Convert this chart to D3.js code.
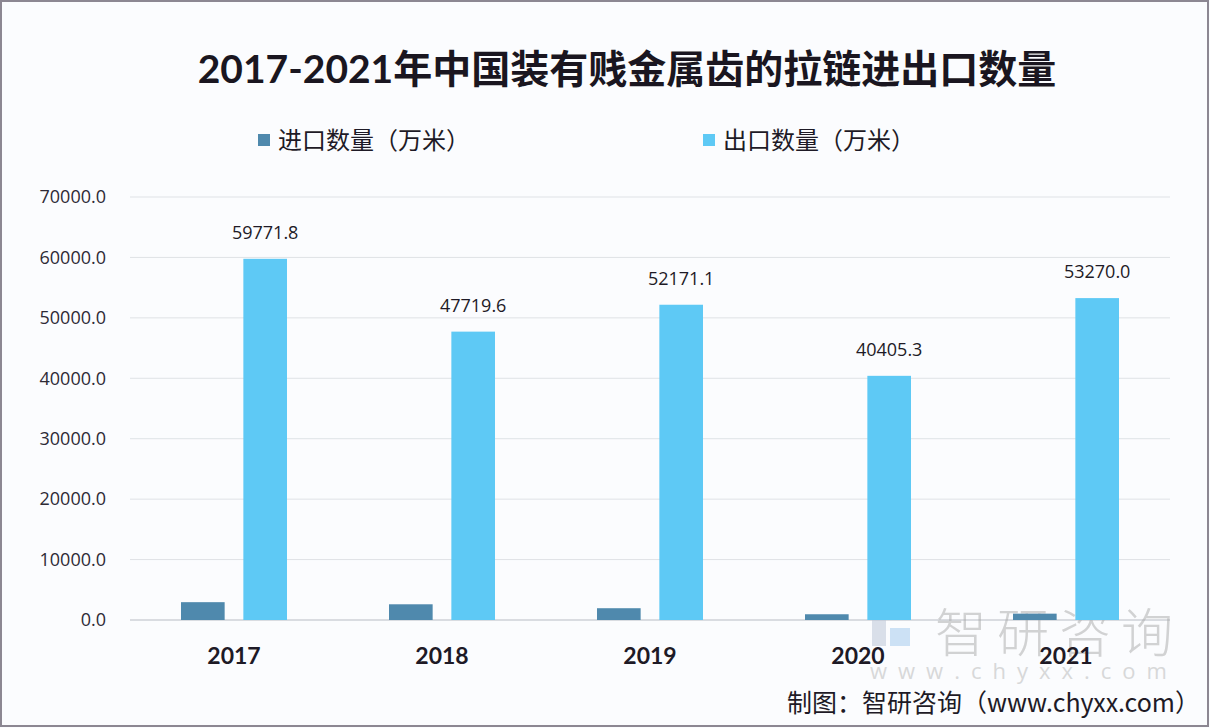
<!DOCTYPE html>
<html><head><meta charset="utf-8">
<script src="https://cdn.jsdelivr.net/npm/d3@7/dist/d3.min.js"></script>
<style>
html,body{margin:0;padding:0;background:#fff;}
svg{display:block;}
</style></head>
<body>
<svg id="chart" width="1210" height="728"></svg>
<script>
const categories = ["2017","2018","2019","2020","2021"];
const seriesNames = ["进口数量（万米）","出口数量（万米）"];
const importValues = [2950, 2600, 1950, 950, 1050];
const exportValues = [59771.8, 47719.6, 52171.1, 40405.3, 53270.0];
const yTicks = [0,10000,20000,30000,40000,50000,60000,70000];
const titleText = "2017-2021年中国装有贱金属齿的拉链进出口数量";
const sourceText = "制图：智研咨询（www.chyxx.com）";

const colors = ["#4f89ad", "#5ec9f5"];
const svg = d3.select("#chart");
const W = 1210, H = 728;

svg.append("rect").attr("x",0).attr("y",0).attr("width",W).attr("height",H).attr("fill","#fbfcfe");
svg.append("rect").attr("x",1).attr("y",1).attr("width",W-3).attr("height",H-3)
  .attr("fill","none").attr("stroke","#8c8792").attr("stroke-width",2);

const margin = {left:130, right:1170, top:197, bottom:620};
const x = d3.scaleBand().domain(categories).range([margin.left, margin.right]).paddingInner(0).paddingOuter(0);
const y = d3.scaleLinear().domain([0,70000]).range([margin.bottom, margin.top]);
const x1 = d3.scaleBand().domain([0,1]).range([0,106]).paddingInner(0.3);

// gridlines
svg.append("g").selectAll("line").data(yTicks).join("line")
  .attr("x1", margin.left).attr("x2", margin.right)
  .attr("y1", d=>y(d)).attr("y2", d=>y(d))
  .attr("stroke", d=> d===0 ? "#b8bcc4" : "#dfe2e6").attr("stroke-width",1);

// y axis labels
const yAxis = d3.axisLeft(y).tickValues(yTicks).tickFormat(d=>d3.format(".1f")(d)).tickSize(0).tickPadding(24);
const ya = svg.append("g").attr("transform",`translate(${margin.left},0)`).call(yAxis);
ya.select(".domain").remove();
ya.selectAll("text").attr("font-family","'Open Sans', 'Noto Sans', sans-serif").attr("font-size",18).attr("fill","#2e2a35");

// watermark (behind labels)
const wm = svg.append("g").attr("opacity",0.5);
wm.append("rect").attr("x",872).attr("y",608).attr("width",38).attr("height",10).attr("fill","#9fb3cf");
wm.append("rect").attr("x",872).attr("y",620).attr("width",14).attr("height",26).attr("fill","#b8c4d6");
wm.append("rect").attr("x",890).attr("y",628).attr("width",20).attr("height",18).attr("fill","#9fc8ee");
wm.append("text").attr("x",935).attr("y",652).attr("font-family","'Noto Sans CJK SC', sans-serif")
  .attr("font-size",52).attr("font-weight",300).attr("fill","#a9a9a9").attr("letter-spacing",10).text("智研咨询");
wm.append("text").attr("x",870).attr("y",679).attr("font-family","'Open Sans', sans-serif")
  .attr("font-size",22).attr("fill","#b5b5b5").attr("letter-spacing",11).text("www.chyxx.com");

// x axis labels
const xAxis = d3.axisBottom(x).tickSize(0).tickPadding(28);
const xa = svg.append("g").attr("transform",`translate(0,${margin.bottom})`).call(xAxis);
xa.select(".domain").remove();
xa.selectAll("text").attr("font-family","Lato, 'Noto Sans', sans-serif").attr("font-weight","bold")
  .attr("font-size",23).attr("fill","#1e1a26");

// bars
const groups = svg.append("g").selectAll("g").data(categories).join("g")
  .attr("transform", d=>`translate(${x(d)+x.bandwidth()/2-53},0)`);
groups.append("rect")
  .attr("x", x1(0)).attr("width", x1.bandwidth())
  .attr("y", (d,i)=>y(importValues[i])).attr("height",(d,i)=>y(0)-y(importValues[i]))
  .attr("fill", colors[0]);
groups.append("rect")
  .attr("x", x1(1)).attr("width", x1.bandwidth())
  .attr("y", (d,i)=>y(exportValues[i])).attr("height",(d,i)=>y(0)-y(exportValues[i]))
  .attr("fill", colors[1]);
groups.append("text")
  .attr("x", x1(1)+x1.bandwidth()/2)
  .attr("y", (d,i)=>y(exportValues[i]) - 20)
  .attr("text-anchor","middle")
  .attr("font-family","'Open Sans', 'Noto Sans', sans-serif").attr("font-size",18).attr("fill","#1e1a26")
  .text((d,i)=>d3.format(".1f")(exportValues[i]));

// title
svg.append("text").attr("x",627).attr("y",83).attr("text-anchor","middle")
  .attr("font-family","Lato, 'Noto Sans CJK SC', sans-serif").attr("font-weight","bold")
  .attr("font-size",39).attr("fill","#1a1620").text(titleText);

// legend
const legX = [258, 703];
seriesNames.forEach((s,i)=>{
  svg.append("rect").attr("x",legX[i]).attr("y",134).attr("width",12).attr("height",12).attr("fill",colors[i]);
  svg.append("text").attr("x",legX[i]+20).attr("y",149)
    .attr("font-family","'Noto Sans CJK SC', sans-serif").attr("font-size",24).attr("fill","#1e1a26").text(s);
});

// source
svg.append("text").attr("x",1200).attr("y",712).attr("text-anchor","end")
  .attr("font-family","'Noto Sans CJK SC', sans-serif").attr("font-size",25).attr("fill","#1e1a26").text(sourceText);
</script>
</body></html>
